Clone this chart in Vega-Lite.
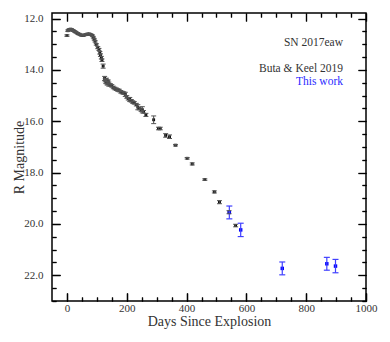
{
  "$schema": "https://vega.github.io/schema/vega-lite/v6.json",
  "width": 314,
  "height": 288,
  "autosize": "none",
  "padding": {"left": 52, "top": 13, "right": 24, "bottom": 41},
  "background": "white",
  "config": {
    "view": {"stroke": "black", "strokeWidth": 1.5},
    "font": "Liberation Serif",
    "axis": {
      "domain": false,
      "ticks": true,
      "tickColor": "black",
      "tickWidth": 1.2,
      "labelFont": "Liberation Serif",
      "labelFontSize": 11,
      "labelColor": "#333333",
      "titleFont": "Liberation Serif",
      "titleFontSize": 14,
      "titleFontWeight": "normal",
      "titleColor": "#333333",
      "grid": false,
      "labelFlush": false,
      "labelOverlap": false
    }
  },
  "datasets": {
    "buta": [
      {"day": 0, "mag": 12.66, "lo": 12.63, "hi": 12.69},
      {"day": 3, "mag": 12.47, "lo": 12.44, "hi": 12.5},
      {"day": 6, "mag": 12.44, "lo": 12.41, "hi": 12.47},
      {"day": 9, "mag": 12.42, "lo": 12.39, "hi": 12.45},
      {"day": 12, "mag": 12.41, "lo": 12.38, "hi": 12.44},
      {"day": 15, "mag": 12.42, "lo": 12.39, "hi": 12.45},
      {"day": 18, "mag": 12.45, "lo": 12.42, "hi": 12.48},
      {"day": 22, "mag": 12.47, "lo": 12.44, "hi": 12.5},
      {"day": 26, "mag": 12.5, "lo": 12.47, "hi": 12.53},
      {"day": 30, "mag": 12.53, "lo": 12.5, "hi": 12.56},
      {"day": 35, "mag": 12.57, "lo": 12.54, "hi": 12.6},
      {"day": 40, "mag": 12.6, "lo": 12.57, "hi": 12.63},
      {"day": 45, "mag": 12.63, "lo": 12.6, "hi": 12.66},
      {"day": 50, "mag": 12.65, "lo": 12.62, "hi": 12.68},
      {"day": 55, "mag": 12.65, "lo": 12.62, "hi": 12.68},
      {"day": 60, "mag": 12.63, "lo": 12.6, "hi": 12.66},
      {"day": 65, "mag": 12.61, "lo": 12.58, "hi": 12.64},
      {"day": 70, "mag": 12.6, "lo": 12.57, "hi": 12.63},
      {"day": 75, "mag": 12.6, "lo": 12.57, "hi": 12.63},
      {"day": 80, "mag": 12.62, "lo": 12.59, "hi": 12.65},
      {"day": 85, "mag": 12.66, "lo": 12.63, "hi": 12.69},
      {"day": 88, "mag": 12.72, "lo": 12.69, "hi": 12.75},
      {"day": 91, "mag": 12.8, "lo": 12.77, "hi": 12.83},
      {"day": 94, "mag": 12.88, "lo": 12.85, "hi": 12.91},
      {"day": 98, "mag": 13.0, "lo": 12.97, "hi": 13.03},
      {"day": 103, "mag": 13.13, "lo": 13.09, "hi": 13.17},
      {"day": 107, "mag": 13.2, "lo": 13.16, "hi": 13.24},
      {"day": 110, "mag": 13.33, "lo": 13.28, "hi": 13.38},
      {"day": 112, "mag": 13.42, "lo": 13.37, "hi": 13.47},
      {"day": 115, "mag": 13.52, "lo": 13.47, "hi": 13.57},
      {"day": 117, "mag": 13.62, "lo": 13.57, "hi": 13.67},
      {"day": 121, "mag": 13.85, "lo": 13.77, "hi": 13.93},
      {"day": 126, "mag": 14.33, "lo": 14.25, "hi": 14.41},
      {"day": 128, "mag": 14.4, "lo": 14.34, "hi": 14.46},
      {"day": 130, "mag": 14.45, "lo": 14.37, "hi": 14.53},
      {"day": 132, "mag": 14.38, "lo": 14.32, "hi": 14.44},
      {"day": 134, "mag": 14.48, "lo": 14.38, "hi": 14.58},
      {"day": 136, "mag": 14.52, "lo": 14.46, "hi": 14.58},
      {"day": 138, "mag": 14.45, "lo": 14.39, "hi": 14.51},
      {"day": 140, "mag": 14.55, "lo": 14.47, "hi": 14.63},
      {"day": 145, "mag": 14.58, "lo": 14.53, "hi": 14.63},
      {"day": 150, "mag": 14.62, "lo": 14.57, "hi": 14.67},
      {"day": 155, "mag": 14.68, "lo": 14.63, "hi": 14.73},
      {"day": 160, "mag": 14.72, "lo": 14.67, "hi": 14.77},
      {"day": 165, "mag": 14.75, "lo": 14.7, "hi": 14.8},
      {"day": 170, "mag": 14.78, "lo": 14.73, "hi": 14.83},
      {"day": 175, "mag": 14.8, "lo": 14.75, "hi": 14.85},
      {"day": 180, "mag": 14.85, "lo": 14.8, "hi": 14.9},
      {"day": 185, "mag": 14.88, "lo": 14.83, "hi": 14.93},
      {"day": 190, "mag": 14.9, "lo": 14.85, "hi": 14.95},
      {"day": 195, "mag": 14.95, "lo": 14.87, "hi": 15.03},
      {"day": 200, "mag": 15.05, "lo": 15.0, "hi": 15.1},
      {"day": 205, "mag": 15.12, "lo": 15.07, "hi": 15.17},
      {"day": 210, "mag": 15.15, "lo": 15.07, "hi": 15.23},
      {"day": 215, "mag": 15.2, "lo": 15.15, "hi": 15.25},
      {"day": 220, "mag": 15.25, "lo": 15.2, "hi": 15.3},
      {"day": 225, "mag": 15.28, "lo": 15.23, "hi": 15.33},
      {"day": 232, "mag": 15.35, "lo": 15.3, "hi": 15.4},
      {"day": 237, "mag": 15.45, "lo": 15.35, "hi": 15.55},
      {"day": 242, "mag": 15.5, "lo": 15.45, "hi": 15.55},
      {"day": 248, "mag": 15.56, "lo": 15.51, "hi": 15.61},
      {"day": 252, "mag": 15.55, "lo": 15.43, "hi": 15.67},
      {"day": 256, "mag": 15.63, "lo": 15.58, "hi": 15.68},
      {"day": 264, "mag": 15.75, "lo": 15.69, "hi": 15.81},
      {"day": 290, "mag": 15.94, "lo": 15.79, "hi": 16.09},
      {"day": 306, "mag": 16.28, "lo": 16.23, "hi": 16.33},
      {"day": 312, "mag": 16.28, "lo": 16.23, "hi": 16.33},
      {"day": 330, "mag": 16.55, "lo": 16.48, "hi": 16.62},
      {"day": 343, "mag": 16.6, "lo": 16.53, "hi": 16.67},
      {"day": 363, "mag": 16.93, "lo": 16.9, "hi": 16.96},
      {"day": 402, "mag": 17.44, "lo": 17.41, "hi": 17.47},
      {"day": 419, "mag": 17.66, "lo": 17.62, "hi": 17.7},
      {"day": 461, "mag": 18.27, "lo": 18.24, "hi": 18.3},
      {"day": 493, "mag": 18.75, "lo": 18.71, "hi": 18.79},
      {"day": 510, "mag": 19.15, "lo": 19.09, "hi": 19.21},
      {"day": 542, "mag": 19.54, "lo": 19.48, "hi": 19.6},
      {"day": 564, "mag": 20.06, "lo": 20.01, "hi": 20.11}
    ],
    "thiswork": [
      {"day": 543, "mag": 19.55, "lo": 19.3, "hi": 19.8},
      {"day": 581, "mag": 20.23, "lo": 19.97, "hi": 20.49},
      {"day": 720, "mag": 21.73, "lo": 21.48, "hi": 21.98},
      {"day": 869, "mag": 21.55, "lo": 21.3, "hi": 21.8},
      {"day": 898, "mag": 21.64, "lo": 21.38, "hi": 21.9}
    ],
    "notes": [
      {"label": "SN 2017eaw", "day": 923, "mag": 12.94, "group": "title"},
      {"label": "Buta & Keel 2019", "day": 923, "mag": 13.97, "group": "buta"},
      {"label": "This work", "day": 923, "mag": 14.47, "group": "this"}
    ]
  },
  "layer": [
    {
      "data": {"name": "buta"},
      "mark": {"type": "square", "size": 8, "color": "black", "opacity": 1},
      "encoding": {
        "x": {
          "field": "day", "type": "quantitative",
          "scale": {"domain": [-50, 1000], "nice": false, "zero": false},
          "axis": {
            "orient": "bottom",
            "values": [0,200,400,600,800,1000],
            "format": "d",
            "tickSize": 8, "offset": -8,
            "labelPadding": 1,
            "title": "Days Since Explosion",
            "titlePadding": 1
          }
        },
        "y": {
          "field": "mag", "type": "quantitative",
          "scale": {"domain": [11.78, 23.0], "reverse": true, "nice": false, "zero": false},
          "axis": {
            "orient": "left",
            "values": [12,14,16,18,20,22],
            "format": ".1f",
            "tickSize": 8, "offset": -8,
            "labelPadding": 9,
            "title": "R Magnitude",
            "titlePadding": -3
          }
        }
      }
    },
    {
      "data": {"name": "thiswork"},
      "mark": {"type": "square", "size": 12, "color": "#0000ff", "opacity": 1},
      "encoding": {
        "x": {
          "field": "day", "type": "quantitative",
          "scale": {"domain": [-50, 1000], "nice": false, "zero": false},
          "axis": {"orient": "top", "values": [0,200,400,600,800,1000], "labels": false, "title": null, "tickSize": 8, "offset": -8}
        },
        "y": {
          "field": "mag", "type": "quantitative",
          "scale": {"domain": [11.78, 23.0], "reverse": true, "nice": false, "zero": false},
          "axis": {"orient": "right", "values": [12,14,16,18,20,22], "labels": false, "title": null, "tickSize": 8, "offset": -8}
        }
      }
    },
    {
      "data": {"name": "buta"},
      "mark": {"type": "rule", "color": "#444444", "strokeWidth": 1},
      "encoding": {
        "x": {
          "field": "day", "type": "quantitative",
          "scale": {"domain": [-50, 1000], "nice": false, "zero": false},
          "axis": {"orient": "bottom", "values": [50,100,150,250,300,350,450,500,550,650,700,750,850,900,950], "labels": false, "title": null, "tickSize": 4, "offset": -4}
        },
        "y": {
          "field": "lo", "type": "quantitative",
          "scale": {"domain": [11.78, 23.0], "reverse": true, "nice": false, "zero": false},
          "axis": {"orient": "left", "values": [12.5,13,13.5,14.5,15,15.5,16.5,17,17.5,18.5,19,19.5,20.5,21,21.5,22.5,23], "labels": false, "title": null, "tickSize": 4, "offset": -4}
        },
        "y2": {"field": "hi"}
      }
    },
    {
      "data": {"name": "thiswork"},
      "mark": {"type": "rule", "color": "#4040ff", "strokeWidth": 1.2},
      "encoding": {
        "x": {
          "field": "day", "type": "quantitative",
          "scale": {"domain": [-50, 1000], "nice": false, "zero": false},
          "axis": {"orient": "top", "values": [50,100,150,250,300,350,450,500,550,650,700,750,850,900,950], "labels": false, "title": null, "tickSize": 4, "offset": -4}
        },
        "y": {
          "field": "lo", "type": "quantitative",
          "scale": {"domain": [11.78, 23.0], "reverse": true, "nice": false, "zero": false},
          "axis": {"orient": "right", "values": [12.5,13,13.5,14.5,15,15.5,16.5,17,17.5,18.5,19,19.5,20.5,21,21.5,22.5,23], "labels": false, "title": null, "tickSize": 4, "offset": -4}
        },
        "y2": {"field": "hi"}
      }
    },
    {
      "data": {"name": "buta"},
      "mark": {"type": "tick", "orient": "horizontal", "size": 5, "thickness": 1, "color": "#555555", "opacity": 1},
      "encoding": {
        "x": {
          "field": "day", "type": "quantitative",
          "scale": {"domain": [-50, 1000], "nice": false, "zero": false},
          "axis": {"orient": "bottom", "values": [0,200,400,600,800,1000], "labels": false, "title": null, "tickSize": 8, "offset": -8}
        },
        "y": {
          "field": "lo", "type": "quantitative",
          "scale": {"domain": [11.78, 23.0], "reverse": true, "nice": false, "zero": false},
          "axis": {"orient": "left", "values": [12,14,16,18,20,22], "labels": false, "title": null, "tickSize": 8, "offset": -8}
        }
      }
    },
    {
      "data": {"name": "buta"},
      "mark": {"type": "tick", "orient": "horizontal", "size": 5, "thickness": 1, "color": "#555555", "opacity": 1},
      "encoding": {
        "x": {
          "field": "day", "type": "quantitative",
          "scale": {"domain": [-50, 1000], "nice": false, "zero": false},
          "axis": {"orient": "top", "values": [0,200,400,600,800,1000], "labels": false, "title": null, "tickSize": 8, "offset": -8}
        },
        "y": {
          "field": "hi", "type": "quantitative",
          "scale": {"domain": [11.78, 23.0], "reverse": true, "nice": false, "zero": false},
          "axis": {"orient": "right", "values": [12,14,16,18,20,22], "labels": false, "title": null, "tickSize": 8, "offset": -8}
        }
      }
    },
    {
      "data": {"name": "thiswork"},
      "mark": {"type": "tick", "orient": "horizontal", "size": 6, "thickness": 1.2, "color": "#4040ff", "opacity": 1},
      "encoding": {
        "x": {
          "field": "day", "type": "quantitative",
          "scale": {"domain": [-50, 1000], "nice": false, "zero": false},
          "axis": {"orient": "bottom", "values": [50,100,150,250,300,350,450,500,550,650,700,750,850,900,950], "labels": false, "title": null, "tickSize": 4, "offset": -4}
        },
        "y": {
          "field": "lo", "type": "quantitative",
          "scale": {"domain": [11.78, 23.0], "reverse": true, "nice": false, "zero": false},
          "axis": {"orient": "left", "values": [12.5,13,13.5,14.5,15,15.5,16.5,17,17.5,18.5,19,19.5,20.5,21,21.5,22.5,23], "labels": false, "title": null, "tickSize": 4, "offset": -4}
        }
      }
    },
    {
      "data": {"name": "thiswork"},
      "mark": {"type": "tick", "orient": "horizontal", "size": 6, "thickness": 1.2, "color": "#4040ff", "opacity": 1},
      "encoding": {
        "x": {
          "field": "day", "type": "quantitative",
          "scale": {"domain": [-50, 1000], "nice": false, "zero": false},
          "axis": {"orient": "top", "values": [50,100,150,250,300,350,450,500,550,650,700,750,850,900,950], "labels": false, "title": null, "tickSize": 4, "offset": -4}
        },
        "y": {
          "field": "hi", "type": "quantitative",
          "scale": {"domain": [11.78, 23.0], "reverse": true, "nice": false, "zero": false},
          "axis": {"orient": "right", "values": [12.5,13,13.5,14.5,15,15.5,16.5,17,17.5,18.5,19,19.5,20.5,21,21.5,22.5,23], "labels": false, "title": null, "tickSize": 4, "offset": -4}
        }
      }
    },
    {
      "data": {"name": "notes"},
      "mark": {"type": "text", "align": "right", "baseline": "middle", "fontSize": 11.5, "font": "Liberation Serif"},
      "encoding": {
        "x": {
          "field": "day", "type": "quantitative",
          "scale": {"domain": [-50, 1000], "nice": false, "zero": false},
          "axis": {"orient": "bottom", "values": [0,200,400,600,800,1000], "labels": false, "title": null, "tickSize": 8, "offset": -8}
        },
        "y": {
          "field": "mag", "type": "quantitative",
          "scale": {"domain": [11.78, 23.0], "reverse": true, "nice": false, "zero": false},
          "axis": {"orient": "left", "values": [12,14,16,18,20,22], "labels": false, "title": null, "tickSize": 8, "offset": -8}
        },
        "text": {"field": "label"},
        "color": {"field": "group", "type": "nominal", "scale": {"domain": ["title", "buta", "this"], "range": ["#333333", "#333333", "#2b2bff"]}, "legend": null}
      }
    }
  ],
  "resolve": {"axis": {"x": "independent", "y": "independent"}}
}
